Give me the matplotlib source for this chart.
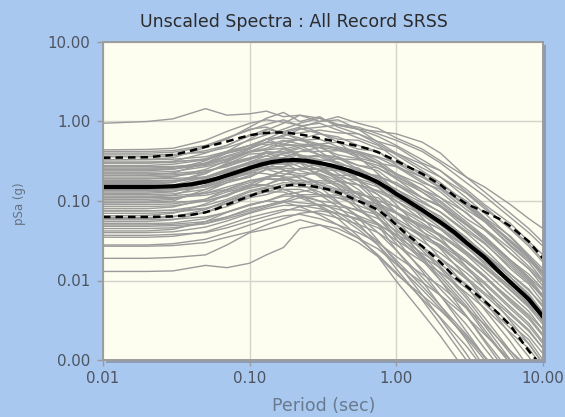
import matplotlib
matplotlib.use('Agg')
import matplotlib.pyplot as plt
from matplotlib.patches import Rectangle
from matplotlib.ticker import NullLocator

periods = [0.01, 0.02, 0.03, 0.05, 0.07, 0.1, 0.13, 0.17, 0.22, 0.3, 0.4,
           0.55, 0.75, 1.0, 1.5, 2.0, 3.0, 4.0, 6.0, 8.0, 10.0]

# periods for the statistics lines (read more finely, they are smooth)
stat_periods = [0.01, 0.02, 0.03, 0.04, 0.05, 0.06, 0.07, 0.085, 0.1, 0.12, 0.14,
                0.17, 0.2, 0.24, 0.3, 0.36, 0.45, 0.55, 0.65, 0.75, 0.9, 1.0,
                1.2, 1.5, 2.0, 2.5, 3.0, 4.0, 5.0, 6.0, 8.0, 10.0]
median_sa = [0.15, 0.15, 0.153, 0.162, 0.175, 0.192, 0.21, 0.235, 0.26, 0.288, 0.308,
             0.323, 0.328, 0.322, 0.30, 0.28, 0.25, 0.22, 0.195, 0.172, 0.14, 0.122,
             0.10, 0.077, 0.054, 0.040, 0.030, 0.0195, 0.013, 0.0095, 0.0058, 0.0035]
plus_sigma = [0.35, 0.355, 0.38, 0.43, 0.48, 0.52, 0.56, 0.62, 0.67, 0.71, 0.725,
              0.73, 0.705, 0.67, 0.615, 0.575, 0.53, 0.49, 0.45, 0.41, 0.35, 0.32,
              0.27, 0.22, 0.16, 0.115, 0.092, 0.073, 0.06, 0.048, 0.031, 0.019]
minus_sigma = [0.063, 0.063, 0.064, 0.067, 0.072, 0.08, 0.09, 0.103, 0.115, 0.13, 0.14,
               0.155, 0.16, 0.158, 0.148, 0.137, 0.118, 0.10, 0.088, 0.077, 0.06, 0.05,
               0.037, 0.027, 0.017, 0.011, 0.0085, 0.0055, 0.0038, 0.0027, 0.0013, 0.0008]

# individual record spectra (g), one row per record
records = [
    [0.95, 1.0, 1.08, 1.45, 1.2, 1.25, 1.35, 1.15, 1.2, 1.1, 0.9, 0.8, 0.55, 0.4, 0.26, 0.2, 0.11, 0.07, 0.035, 0.02, 0.012],
    [0.44, 0.445, 0.46, 0.58, 0.75, 0.95, 1.05, 0.98, 0.9, 0.72, 0.55, 0.36, 0.22, 0.13, 0.062, 0.035, 0.015, 0.008, 0.0031, 0.0016, 0.0009],
    [0.42, 0.42, 0.43, 0.5, 0.62, 0.78, 0.92, 1.05, 0.88, 0.95, 0.78, 0.62, 0.5, 0.34, 0.21, 0.15, 0.085, 0.055, 0.027, 0.017, 0.01],
    [0.38, 0.38, 0.385, 0.41, 0.47, 0.58, 0.68, 0.8, 0.95, 1.1, 0.92, 0.85, 0.7, 0.58, 0.42, 0.3, 0.17, 0.115, 0.062, 0.04, 0.027],
    [0.36, 0.36, 0.37, 0.43, 0.5, 0.66, 0.8, 0.72, 0.82, 0.7, 0.64, 0.5, 0.42, 0.28, 0.18, 0.13, 0.07, 0.045, 0.022, 0.014, 0.0085],
    [0.33, 0.335, 0.35, 0.47, 0.62, 0.8, 0.85, 0.7, 0.62, 0.42, 0.3, 0.18, 0.1, 0.05, 0.02, 0.01, 0.0036, 0.0017, 0.0006, 0.0003, 0.0002],
    [0.31, 0.31, 0.315, 0.33, 0.4, 0.46, 0.55, 0.68, 0.72, 0.78, 0.72, 0.7, 0.56, 0.48, 0.3, 0.24, 0.14, 0.09, 0.052, 0.031, 0.021],
    [0.30, 0.30, 0.315, 0.4, 0.5, 0.68, 0.7, 0.72, 0.58, 0.5, 0.35, 0.25, 0.15, 0.09, 0.042, 0.025, 0.011, 0.0055, 0.0021, 0.0011, 0.0006],
    [0.28, 0.28, 0.29, 0.33, 0.4, 0.47, 0.6, 0.62, 0.58, 0.6, 0.48, 0.42, 0.32, 0.22, 0.14, 0.1, 0.055, 0.036, 0.018, 0.011, 0.0065],
    [0.27, 0.27, 0.272, 0.29, 0.34, 0.42, 0.46, 0.56, 0.6, 0.7, 0.6, 0.58, 0.46, 0.4, 0.29, 0.2, 0.125, 0.08, 0.045, 0.029, 0.018],
    [0.25, 0.25, 0.255, 0.29, 0.36, 0.42, 0.5, 0.58, 0.52, 0.5, 0.46, 0.35, 0.3, 0.19, 0.13, 0.088, 0.05, 0.032, 0.016, 0.01, 0.006],
    [0.24, 0.24, 0.25, 0.32, 0.42, 0.5, 0.6, 0.5, 0.5, 0.38, 0.3, 0.19, 0.12, 0.072, 0.034, 0.019, 0.0085, 0.0043, 0.0017, 0.0008, 0.0005],
    [0.23, 0.23, 0.235, 0.27, 0.31, 0.41, 0.44, 0.52, 0.5, 0.47, 0.38, 0.34, 0.26, 0.19, 0.11, 0.085, 0.045, 0.03, 0.014, 0.009, 0.0053],
    [0.22, 0.22, 0.222, 0.24, 0.27, 0.34, 0.37, 0.45, 0.5, 0.52, 0.55, 0.45, 0.42, 0.3, 0.23, 0.16, 0.1, 0.062, 0.036, 0.021, 0.014],
    [0.21, 0.212, 0.225, 0.3, 0.4, 0.5, 0.52, 0.48, 0.38, 0.28, 0.18, 0.12, 0.062, 0.033, 0.013, 0.0065, 0.0023, 0.0011, 0.0004, 0.0002, 0.0001],
    [0.20, 0.20, 0.205, 0.23, 0.29, 0.34, 0.42, 0.4, 0.46, 0.38, 0.36, 0.28, 0.24, 0.16, 0.1, 0.072, 0.04, 0.025, 0.012, 0.0078, 0.0046],
    [0.19, 0.19, 0.2, 0.25, 0.32, 0.42, 0.44, 0.46, 0.36, 0.32, 0.22, 0.16, 0.095, 0.058, 0.026, 0.015, 0.0065, 0.0034, 0.0013, 0.0007, 0.0004],
    [0.18, 0.18, 0.182, 0.195, 0.23, 0.27, 0.32, 0.35, 0.42, 0.42, 0.43, 0.38, 0.3, 0.27, 0.17, 0.14, 0.078, 0.055, 0.028, 0.018, 0.012],
    [0.175, 0.175, 0.18, 0.2, 0.25, 0.3, 0.33, 0.4, 0.37, 0.36, 0.29, 0.26, 0.19, 0.14, 0.085, 0.064, 0.034, 0.022, 0.011, 0.0068, 0.004],
    [0.17, 0.17, 0.173, 0.2, 0.23, 0.31, 0.34, 0.35, 0.38, 0.33, 0.31, 0.24, 0.2, 0.13, 0.088, 0.06, 0.035, 0.021, 0.011, 0.0064, 0.0039],
    [0.16, 0.162, 0.17, 0.23, 0.29, 0.39, 0.4, 0.34, 0.3, 0.2, 0.15, 0.085, 0.05, 0.024, 0.0098, 0.0048, 0.0018, 0.0008, 0.0003, 0.00015, 0.0001],
    [0.155, 0.155, 0.157, 0.17, 0.19, 0.24, 0.26, 0.32, 0.35, 0.38, 0.34, 0.33, 0.28, 0.22, 0.16, 0.11, 0.072, 0.045, 0.025, 0.015, 0.01],
    [0.15, 0.15, 0.158, 0.2, 0.25, 0.31, 0.37, 0.33, 0.31, 0.24, 0.19, 0.12, 0.078, 0.045, 0.021, 0.012, 0.0053, 0.0027, 0.001, 0.0005, 0.0003],
    [0.145, 0.145, 0.148, 0.17, 0.2, 0.26, 0.28, 0.33, 0.31, 0.3, 0.25, 0.22, 0.16, 0.12, 0.07, 0.054, 0.028, 0.019, 0.0088, 0.0058, 0.0033],
    [0.14, 0.14, 0.142, 0.15, 0.18, 0.2, 0.25, 0.27, 0.33, 0.32, 0.34, 0.28, 0.26, 0.2, 0.14, 0.11, 0.06, 0.043, 0.022, 0.014, 0.0095],
    [0.13, 0.13, 0.133, 0.15, 0.19, 0.22, 0.27, 0.27, 0.3, 0.25, 0.24, 0.18, 0.15, 0.1, 0.067, 0.046, 0.027, 0.016, 0.0083, 0.005, 0.003],
    [0.125, 0.125, 0.13, 0.17, 0.2, 0.28, 0.29, 0.3, 0.24, 0.21, 0.15, 0.1, 0.064, 0.036, 0.018, 0.01, 0.0045, 0.0022, 0.0009, 0.00045, 0.00025],
    [0.12, 0.12, 0.123, 0.14, 0.17, 0.2, 0.25, 0.26, 0.25, 0.25, 0.2, 0.18, 0.13, 0.1, 0.058, 0.044, 0.023, 0.015, 0.0075, 0.0046, 0.0028],
    [0.115, 0.115, 0.117, 0.125, 0.14, 0.18, 0.19, 0.24, 0.25, 0.3, 0.26, 0.25, 0.2, 0.17, 0.11, 0.088, 0.05, 0.036, 0.018, 0.012, 0.0078],
    [0.11, 0.111, 0.118, 0.16, 0.2, 0.27, 0.26, 0.25, 0.19, 0.15, 0.098, 0.062, 0.032, 0.017, 0.0066, 0.0033, 0.0012, 0.00055, 0.0002, 0.0001, 0.0001],
    [0.105, 0.105, 0.108, 0.125, 0.15, 0.18, 0.2, 0.24, 0.22, 0.22, 0.18, 0.16, 0.12, 0.083, 0.053, 0.037, 0.021, 0.013, 0.0066, 0.0041, 0.0024],
    [0.10, 0.10, 0.105, 0.13, 0.17, 0.21, 0.25, 0.22, 0.21, 0.16, 0.125, 0.078, 0.052, 0.029, 0.014, 0.0078, 0.0036, 0.0018, 0.0007, 0.00035, 0.0002],
    [0.095, 0.095, 0.097, 0.1, 0.12, 0.145, 0.16, 0.2, 0.2, 0.24, 0.21, 0.21, 0.16, 0.14, 0.095, 0.073, 0.042, 0.029, 0.015, 0.0095, 0.0062],
    [0.09, 0.09, 0.092, 0.105, 0.13, 0.15, 0.19, 0.18, 0.21, 0.17, 0.165, 0.12, 0.11, 0.07, 0.046, 0.032, 0.018, 0.0115, 0.0056, 0.0035, 0.0021],
    [0.085, 0.085, 0.087, 0.1, 0.115, 0.155, 0.16, 0.19, 0.18, 0.17, 0.14, 0.13, 0.095, 0.07, 0.041, 0.031, 0.017, 0.011, 0.0053, 0.0033, 0.002],
    [0.08, 0.08, 0.084, 0.105, 0.14, 0.17, 0.19, 0.19, 0.16, 0.13, 0.095, 0.065, 0.04, 0.024, 0.011, 0.0064, 0.0028, 0.0014, 0.00055, 0.0003, 0.00015],
    [0.075, 0.075, 0.076, 0.081, 0.094, 0.115, 0.13, 0.15, 0.17, 0.18, 0.175, 0.16, 0.135, 0.11, 0.075, 0.056, 0.034, 0.022, 0.012, 0.0075, 0.0049],
    [0.07, 0.07, 0.072, 0.08, 0.1, 0.12, 0.14, 0.16, 0.15, 0.15, 0.12, 0.1, 0.082, 0.056, 0.035, 0.026, 0.014, 0.009, 0.0044, 0.0027, 0.0016],
    [0.065, 0.066, 0.07, 0.092, 0.12, 0.16, 0.16, 0.14, 0.12, 0.085, 0.06, 0.036, 0.02, 0.0098, 0.0039, 0.002, 0.0007, 0.0003, 0.0001, 0.0001, 0.0001],
    [0.062, 0.062, 0.064, 0.072, 0.085, 0.11, 0.12, 0.14, 0.14, 0.12, 0.11, 0.088, 0.07, 0.05, 0.031, 0.022, 0.0125, 0.0079, 0.0039, 0.0024, 0.0014],
    [0.058, 0.058, 0.059, 0.063, 0.072, 0.088, 0.1, 0.12, 0.13, 0.145, 0.13, 0.125, 0.1, 0.085, 0.058, 0.044, 0.026, 0.017, 0.0093, 0.0058, 0.0038],
    [0.055, 0.055, 0.058, 0.072, 0.094, 0.12, 0.13, 0.13, 0.11, 0.088, 0.066, 0.044, 0.028, 0.016, 0.0077, 0.0044, 0.0019, 0.001, 0.0004, 0.0002, 0.0001],
    [0.052, 0.052, 0.053, 0.06, 0.073, 0.09, 0.1, 0.115, 0.115, 0.1, 0.093, 0.075, 0.06, 0.042, 0.026, 0.019, 0.0104, 0.0066, 0.0033, 0.002, 0.0012],
    [0.048, 0.048, 0.049, 0.052, 0.06, 0.072, 0.084, 0.096, 0.11, 0.115, 0.11, 0.1, 0.086, 0.07, 0.048, 0.036, 0.022, 0.0144, 0.0077, 0.0048, 0.0031],
    [0.045, 0.045, 0.046, 0.052, 0.063, 0.08, 0.088, 0.1, 0.095, 0.09, 0.079, 0.065, 0.052, 0.036, 0.022, 0.016, 0.009, 0.0057, 0.0028, 0.0018, 0.001],
    [0.042, 0.042, 0.044, 0.055, 0.072, 0.09, 0.1, 0.097, 0.085, 0.067, 0.05, 0.034, 0.021, 0.0126, 0.0059, 0.0034, 0.0015, 0.00075, 0.0003, 0.00015, 0.0001],
    [0.04, 0.04, 0.041, 0.047, 0.056, 0.07, 0.08, 0.088, 0.088, 0.08, 0.07, 0.058, 0.046, 0.032, 0.02, 0.0144, 0.008, 0.0051, 0.0025, 0.0016, 0.0009],
    [0.037, 0.037, 0.038, 0.04, 0.046, 0.056, 0.064, 0.074, 0.085, 0.09, 0.085, 0.078, 0.067, 0.054, 0.037, 0.028, 0.017, 0.011, 0.0059, 0.0037, 0.0024],
    [0.035, 0.035, 0.036, 0.041, 0.05, 0.062, 0.07, 0.078, 0.077, 0.07, 0.061, 0.051, 0.04, 0.028, 0.0175, 0.0126, 0.007, 0.0045, 0.0022, 0.0014, 0.0008],
    [0.028, 0.028, 0.029, 0.033, 0.04, 0.05, 0.058, 0.065, 0.068, 0.06, 0.05, 0.04, 0.03, 0.02, 0.012, 0.0085, 0.0045, 0.0028, 0.0013, 0.0008, 0.0005],
    [0.027, 0.027, 0.0275, 0.03, 0.035, 0.041, 0.05, 0.06, 0.07, 0.075, 0.07, 0.06, 0.05, 0.038, 0.026, 0.019, 0.011, 0.007, 0.0037, 0.0023, 0.0014],
    [0.019, 0.019, 0.0195, 0.021, 0.028, 0.04, 0.044, 0.05, 0.058, 0.05, 0.045, 0.034, 0.025, 0.016, 0.0095, 0.0065, 0.0035, 0.0021, 0.001, 0.0006, 0.0004],
    [0.013, 0.013, 0.0132, 0.0155, 0.0145, 0.0165, 0.021, 0.026, 0.045, 0.05, 0.04, 0.03, 0.02, 0.012, 0.0065, 0.0042, 0.002, 0.0011, 0.0005, 0.0003, 0.0002],
    [0.21, 0.21, 0.213, 0.23, 0.28, 0.33, 0.4, 0.42, 0.48, 0.5, 0.46, 0.42, 0.36, 0.3, 0.2, 0.15, 0.09, 0.06, 0.032, 0.02, 0.013],
    [0.165, 0.166, 0.172, 0.22, 0.3, 0.35, 0.4, 0.38, 0.33, 0.27, 0.2, 0.14, 0.088, 0.05, 0.024, 0.014, 0.006, 0.003, 0.0012, 0.0006, 0.0003],
    [0.135, 0.135, 0.138, 0.155, 0.2, 0.23, 0.29, 0.29, 0.32, 0.27, 0.25, 0.19, 0.16, 0.11, 0.07, 0.05, 0.028, 0.018, 0.009, 0.0055, 0.0033],
    [0.11, 0.11, 0.111, 0.118, 0.135, 0.16, 0.2, 0.21, 0.26, 0.25, 0.27, 0.22, 0.21, 0.16, 0.11, 0.085, 0.05, 0.033, 0.018, 0.011, 0.0075],
    [0.095, 0.096, 0.1, 0.14, 0.18, 0.23, 0.22, 0.2, 0.17, 0.12, 0.085, 0.052, 0.028, 0.014, 0.0057, 0.0028, 0.001, 0.00045, 0.00017, 0.0001, 0.0001],
    [0.075, 0.075, 0.077, 0.088, 0.105, 0.135, 0.15, 0.17, 0.165, 0.16, 0.135, 0.11, 0.09, 0.06, 0.038, 0.027, 0.015, 0.0095, 0.0047, 0.0029, 0.0017],
    [0.26, 0.26, 0.265, 0.3, 0.37, 0.45, 0.55, 0.52, 0.6, 0.52, 0.46, 0.4, 0.3, 0.21, 0.13, 0.095, 0.052, 0.034, 0.017, 0.0105, 0.0062],
    [0.19, 0.19, 0.192, 0.2, 0.24, 0.29, 0.32, 0.4, 0.42, 0.47, 0.44, 0.4, 0.35, 0.27, 0.2, 0.145, 0.088, 0.057, 0.031, 0.019, 0.0125],
    [0.06, 0.06, 0.063, 0.078, 0.1, 0.13, 0.145, 0.14, 0.12, 0.1, 0.072, 0.048, 0.031, 0.018, 0.0085, 0.0048, 0.0021, 0.0011, 0.00042, 0.0002, 0.0001],
    [0.05, 0.05, 0.051, 0.055, 0.063, 0.076, 0.088, 0.1, 0.12, 0.12, 0.118, 0.1, 0.092, 0.072, 0.05, 0.038, 0.023, 0.015, 0.0082, 0.0052, 0.0034],
    [0.33, 0.33, 0.335, 0.36, 0.42, 0.5, 0.6, 0.65, 0.8, 0.85, 0.9, 0.8, 0.75, 0.7, 0.55, 0.4, 0.2, 0.15, 0.09, 0.06, 0.045],
    [0.14, 0.141, 0.148, 0.19, 0.24, 0.3, 0.33, 0.32, 0.27, 0.22, 0.16, 0.11, 0.07, 0.04, 0.019, 0.011, 0.0048, 0.0024, 0.0009, 0.00045, 0.00025],
    [0.4, 0.4, 0.41, 0.48, 0.6, 0.85, 1.1, 1.3, 1.0, 1.15, 0.85, 0.7, 0.52, 0.38, 0.24, 0.17, 0.095, 0.06, 0.03, 0.019, 0.011],
    [0.3, 0.3, 0.305, 0.34, 0.42, 0.6, 0.78, 0.95, 1.2, 1.0, 1.05, 0.8, 0.65, 0.5, 0.33, 0.24, 0.13, 0.085, 0.044, 0.027, 0.017],
    [0.25, 0.25, 0.253, 0.28, 0.33, 0.45, 0.6, 0.75, 0.85, 1.0, 1.15, 0.95, 0.82, 0.62, 0.45, 0.32, 0.2, 0.13, 0.07, 0.045, 0.03],
]

x_ticks = [0.01, 0.1, 1.0, 10.0]
x_tick_labels = ['0.01', '0.10', '1.00', '10.00']
y_ticks = [0.001, 0.01, 0.1, 1.0, 10.0]
y_tick_labels = ['0.00', '0.01', '0.10', '1.00', '10.00']


def draw_chart():
    W, H = 565, 417
    fig = plt.figure(figsize=(W / 100, H / 100), dpi=100, facecolor='#a8c8f0')

    # plot box in pixels: left 103, right 543, top 42, bottom 360
    left, right, top, bottom = 103, 543, 42, 360
    rect = [left / W, (H - bottom) / H, (right - left) / W, (bottom - top) / H]

    # soft shadow behind the plot box
    shadow = Rectangle(((left + 3) / W, (H - bottom - 3) / H), rect[2], rect[3],
                       transform=fig.transFigure, facecolor='#8e9db3',
                       edgecolor='none', zorder=-1)
    fig.patches.append(shadow)

    ax = fig.add_axes(rect)
    ax.set_facecolor('#fdfdf0')
    ax.set_xscale('log')
    ax.set_yscale('log')

    for rec in records:
        ax.plot(periods, rec, color='#9b9b9b', lw=1.0)

    ax.plot(stat_periods, plus_sigma, color='black', lw=1.8, ls=(0, (3, 2)))
    ax.plot(stat_periods, minus_sigma, color='black', lw=1.8, ls=(0, (3, 2)))
    ax.plot(stat_periods, median_sa, color='black', lw=3.0)

    ax.set_xlim(0.01, 10)
    ax.set_ylim(0.001, 10)
    ax.set_xticks(x_ticks)
    ax.set_xticklabels(x_tick_labels)
    ax.set_yticks(y_ticks)
    ax.set_yticklabels(y_tick_labels)
    ax.xaxis.set_minor_locator(NullLocator())
    ax.yaxis.set_minor_locator(NullLocator())
    ax.tick_params(axis='both', colors='#9a9a9a', labelcolor='#4e5360',
                   labelsize=10.8, length=4, width=1)
    ax.tick_params(axis='x', pad=4)
    ax.tick_params(axis='y', pad=5)

    ax.grid(True, which='major', color='#d4d4ca', lw=1)
    ax.set_axisbelow(True)
    for s in ax.spines.values():
        s.set_color('#9c9c9c')
        s.set_linewidth(1.4)

    fig.text(0.52, 1 - 22 / H, 'Unscaled Spectra : All Record SRSS',
             ha='center', va='center', fontsize=12.5, color='#2b2b2b')
    fig.text(19 / W, 1 - 204 / H, 'pSa (g)', rotation=90,
             ha='center', va='center', fontsize=8.5, color='#66707f')
    fig.text(324 / W, 1 - 406 / H, 'Period (sec)',
             ha='center', va='center', fontsize=12.5, color='#6a7a8e')

    fig.savefig('out.png', dpi=100, facecolor=fig.get_facecolor())
    plt.close(fig)


if __name__ == "__main__":
    draw_chart()
